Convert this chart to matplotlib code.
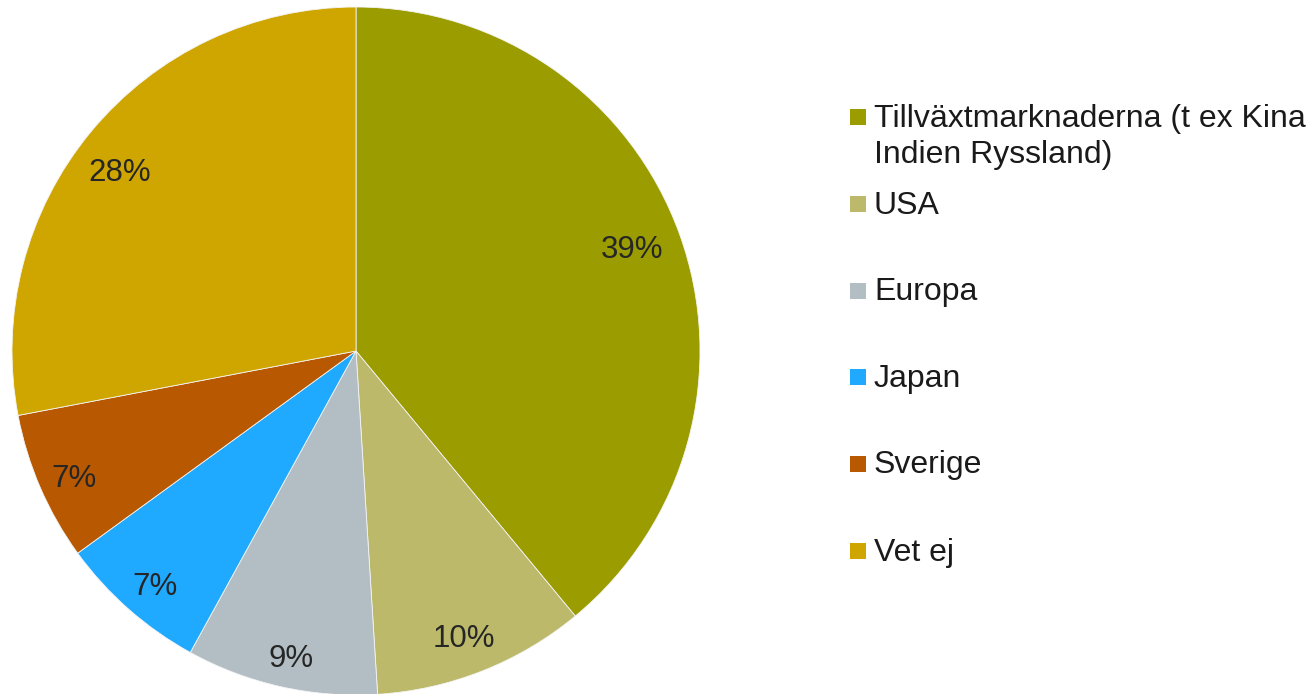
import matplotlib.pyplot as plt
from matplotlib.patches import Rectangle

labels = ['Tillväxtmarknaderna (t ex Kina\nIndien Ryssland)', 'USA', 'Europa',
          'Japan', 'Sverige', 'Vet ej']
values = [39, 10, 9, 7, 7, 28]
colors = ['#9a9c00', '#bcb96a', '#b3bec4', '#1fa9ff', '#b85800', '#cfa600']

plt.rcParams['font.family'] = ['Liberation Sans', 'DejaVu Sans']

W, H = 1311, 694
fig = plt.figure(figsize=(W / 100, H / 100), dpi=100)

# pie centre (356, 351) px, radius 344 px
cx, cy, r = 356, 351, 344
ax = fig.add_axes([(cx - r) / W, (H - cy - r) / H, 2 * r / W, 2 * r / H])
wedges, texts, autotexts = ax.pie(
    values, colors=colors, startangle=90, counterclock=False, radius=1,
    autopct='%1.0f%%', pctdistance=0.865,
    wedgeprops=dict(edgecolor='#f4f4f4', linewidth=0.6),
    textprops=dict(fontsize=22.5, color='#262626'))

# nudge the percent labels (pixels, +y = down) to where the original puts them
nudge = [(-3.5, 0), (-1.5, 11), (0, 17.5), (-4.5, 13), (-8.5, 10), (-7.5, 12)]
for t, (dx, dy) in zip(autotexts, nudge):
    x, y = t.get_position()
    t.set_position((x + dx / r, y - dy / r))

ax.set_xlim(-1, 1)
ax.set_ylim(-1, 1)
ax.set_aspect('equal')
ax.axis('off')

# legend drawn by hand
marker_y = [116.5, 204, 290.5, 377, 464, 551]
line_h = 37
for lab, col, my in zip(labels, colors, marker_y):
    s = 16
    fig.patches.append(Rectangle((850 / W, (H - my - s / 2) / H), s / W, s / H,
                                 transform=fig.transFigure, facecolor=col,
                                 edgecolor='none'))
    nl = lab.count('\n')
    base = my + 9.5 + line_h * nl
    fig.text(874 / W, (H - base) / H, lab, fontsize=23, color='#1a1a1a',
             va='baseline', ha='left', linespacing=1.27)

fig.savefig('out.png', dpi=100)
